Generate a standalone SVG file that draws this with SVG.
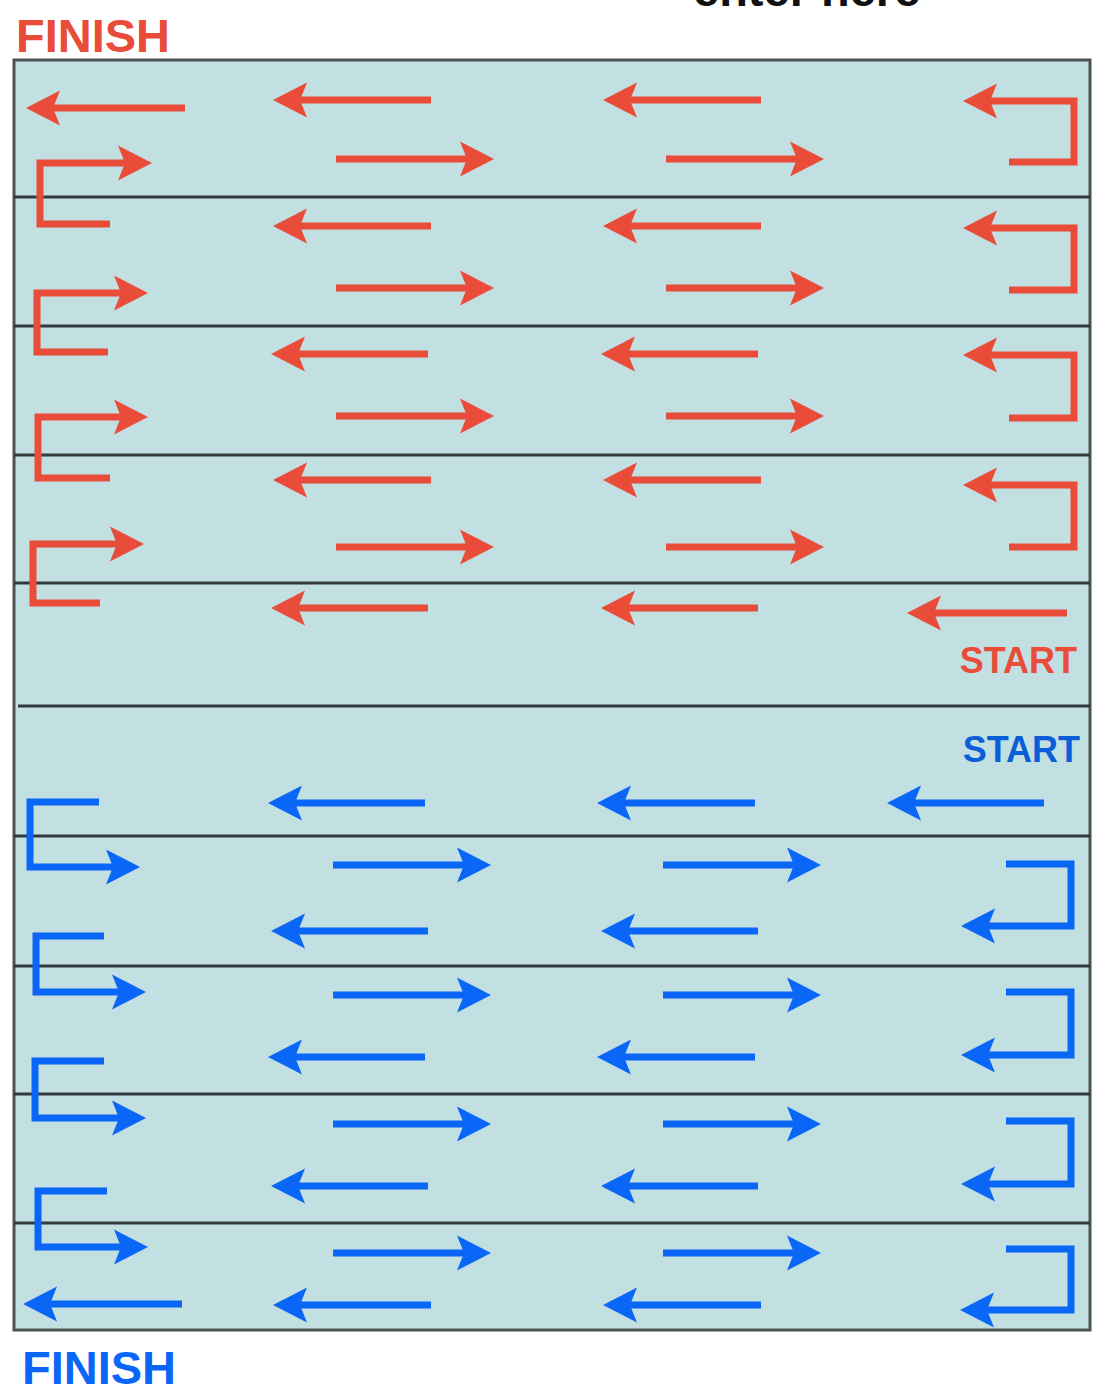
<svg xmlns="http://www.w3.org/2000/svg" width="1093" height="1393" viewBox="0 0 1093 1393">
<style>
.lbl{font-family:"Liberation Sans",Arial,sans-serif;font-weight:bold}
.red{stroke:#e94c38;stroke-width:7;fill:none;stroke-linejoin:miter;stroke-linecap:butt;marker-end:url(#hr)}
.blue{stroke:#0a66f6;stroke-width:7;fill:none;stroke-linejoin:miter;stroke-linecap:butt;marker-end:url(#hb)}
.div{stroke:#333a3b;stroke-width:3}
</style>
<defs>
<marker id="hr" markerUnits="userSpaceOnUse" viewBox="-16 -19 38 38" refX="0" refY="0" markerWidth="38" markerHeight="38" orient="auto">
<path d="M20,0 L-14,-17.5 L-7,0 L-14,17.5 Z" fill="#e94c38"/>
</marker>
<marker id="hb" markerUnits="userSpaceOnUse" viewBox="-16 -19 38 38" refX="0" refY="0" markerWidth="38" markerHeight="38" orient="auto">
<path d="M20,0 L-14,-17.5 L-7,0 L-14,17.5 Z" fill="#0a66f6"/>
</marker>
</defs>
<rect width="1093" height="1393" fill="#ffffff"/>
<text class="lbl" x="693" y="6" font-size="47" fill="#111">enter here</text>
<g id="pool">
<rect x="14" y="60" width="1076" height="1270" fill="#c2dfe1" stroke="#4d5354" stroke-width="3"/>
<line class="div" x1="14" y1="197" x2="1090" y2="197"/>
<line class="div" x1="14" y1="326" x2="1090" y2="326"/>
<line class="div" x1="14" y1="455" x2="1090" y2="455"/>
<line class="div" x1="14" y1="583" x2="1090" y2="583"/>
<line class="div" x1="18" y1="706" x2="1090" y2="706"/>
<line class="div" x1="14" y1="836" x2="1090" y2="836"/>
<line class="div" x1="14" y1="966" x2="1090" y2="966"/>
<line class="div" x1="14" y1="1094" x2="1090" y2="1094"/>
<line class="div" x1="14" y1="1223" x2="1090" y2="1223"/>
</g>
<g id="red-route">
<path class="red" d="M185,108 H46"/>
<path class="red" d="M431,100 H293"/>
<path class="red" d="M761,100 H623"/>
<path class="red" d="M1009,162 H1074 V101 H983"/>
<path class="red" d="M110,224 H40 V163 H132"/>
<path class="red" d="M336,159 H474"/>
<path class="red" d="M666,159 H804"/>
<path class="red" d="M431,226 H293"/>
<path class="red" d="M761,226 H623"/>
<path class="red" d="M1009,290 H1074 V228 H983"/>
<path class="red" d="M108,352 H37 V293 H128"/>
<path class="red" d="M336,288 H474"/>
<path class="red" d="M666,288 H804"/>
<path class="red" d="M428,354 H291"/>
<path class="red" d="M758,354 H621"/>
<path class="red" d="M1009,418 H1074 V355 H983"/>
<path class="red" d="M110,478 H38 V417 H128"/>
<path class="red" d="M336,416 H474"/>
<path class="red" d="M666,416 H804"/>
<path class="red" d="M431,480 H293"/>
<path class="red" d="M761,480 H623"/>
<path class="red" d="M1009,547 H1074 V485 H983"/>
<path class="red" d="M100,603 H33 V544 H124"/>
<path class="red" d="M336,547 H474"/>
<path class="red" d="M666,547 H804"/>
<path class="red" d="M428,608 H291"/>
<path class="red" d="M758,608 H621"/>
<path class="red" d="M1067,613 H927"/>
</g>
<g id="blue-route">
<path class="blue" d="M1044,803 H907"/>
<path class="blue" d="M425,803 H288"/>
<path class="blue" d="M755,803 H617"/>
<path class="blue" d="M99,802 H30 V867 H120"/>
<path class="blue" d="M333,865 H471"/>
<path class="blue" d="M663,865 H801"/>
<path class="blue" d="M1006,864 H1071 V926 H981"/>
<path class="blue" d="M428,931 H291"/>
<path class="blue" d="M758,931 H621"/>
<path class="blue" d="M104,936 H36 V992 H126"/>
<path class="blue" d="M333,995 H471"/>
<path class="blue" d="M663,995 H801"/>
<path class="blue" d="M1006,992 H1071 V1055 H981"/>
<path class="blue" d="M425,1057 H288"/>
<path class="blue" d="M755,1057 H617"/>
<path class="blue" d="M104,1061 H35 V1118 H126"/>
<path class="blue" d="M333,1124 H471"/>
<path class="blue" d="M663,1124 H801"/>
<path class="blue" d="M1006,1121 H1071 V1184 H981"/>
<path class="blue" d="M428,1186 H291"/>
<path class="blue" d="M758,1186 H621"/>
<path class="blue" d="M107,1191 H38 V1247 H128"/>
<path class="blue" d="M333,1253 H471"/>
<path class="blue" d="M663,1253 H801"/>
<path class="blue" d="M1006,1249 H1071 V1310 H980"/>
<path class="blue" d="M431,1305 H293"/>
<path class="blue" d="M761,1305 H623"/>
<path class="blue" d="M182,1304 H43"/>
</g>
<g id="labels">
<text class="lbl" x="16" y="52" font-size="47" fill="#e94c38">FINISH</text>
<text class="lbl" x="1077" y="673" font-size="36" fill="#e94c38" text-anchor="end">START</text>
<text class="lbl" x="1080" y="762" font-size="36" fill="#0a5fd8" text-anchor="end">START</text>
<text class="lbl" x="22" y="1384" font-size="47" fill="#0a66f6">FINISH</text>
</g>
</svg>
